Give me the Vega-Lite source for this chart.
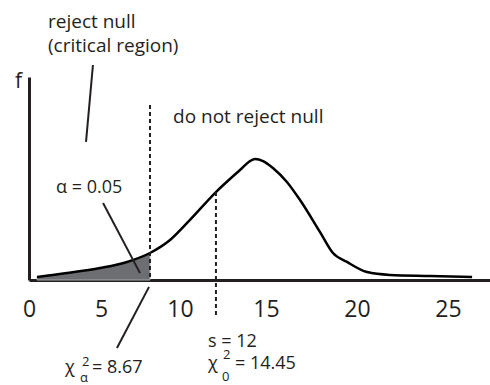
{
  "$schema": "https://vega.github.io/schema/vega-lite/v6.json",
  "width": 461,
  "height": 203,
  "autosize": {"type": "none"},
  "padding": {"left": 29, "top": 77, "right": 0, "bottom": 105},
  "background": "white",
  "config": {"view": {"stroke": null}, "font": "Open Sans", "text": {"font": "Open Sans"}},
  "datasets": {
    "curve": [
      {"x": 0.56, "f": 0.015},
      {"x": 2.64, "f": 0.034},
      {"x": 4.93, "f": 0.059},
      {"x": 6.65, "f": 0.089},
      {"x": 8.10, "f": 0.133},
      {"x": 9.37, "f": 0.197},
      {"x": 10.58, "f": 0.296},
      {"x": 12.09, "f": 0.433},
      {"x": 13.49, "f": 0.542},
      {"x": 14.07, "f": 0.586},
      {"x": 14.36, "f": 0.596},
      {"x": 14.83, "f": 0.586},
      {"x": 15.38, "f": 0.552},
      {"x": 16.15, "f": 0.483},
      {"x": 16.87, "f": 0.394},
      {"x": 17.97, "f": 0.236},
      {"x": 18.68, "f": 0.133},
      {"x": 19.45, "f": 0.089},
      {"x": 20.55, "f": 0.039},
      {"x": 21.81, "f": 0.025},
      {"x": 24.01, "f": 0.020},
      {"x": 26.32, "f": 0.015}
    ],
    "dashes": [
      {"x": 8.1, "y": 0.862, "y2": 0},
      {"x": 12.09, "y": 0.433, "y2": -0.172}
    ],
    "leaders": [
      {"x": 4.44, "y": 1.059, "x2": 3.96, "y2": 0.68},
      {"x": 5.13, "y": 0.379, "x2": 7.47, "y2": 0.034},
      {"x": 8.04, "y": -0.034, "x2": 6.01, "y2": -0.335}
    ],
    "bigText": [
      {"x": 1.32, "y": 1.241, "label": "reject null"},
      {"x": 1.32, "y": 1.123, "label": "(critical region)"},
      {"x": 9.56, "y": 0.773, "label": "do not reject null"}
    ],
    "midText": [
      {"x": 1.875, "y": 0.429, "label": "α = 0.05"},
      {"x": 11.63, "y": -0.33, "label": "s = 12"},
      {"x": 2.5, "y": -0.458, "label": "χ"},
      {"x": 4.38, "y": -0.458, "label": "= 8.67"},
      {"x": 11.63, "y": -0.438, "label": "χ"},
      {"x": 13.2, "y": -0.438, "label": "= 14.45"}
    ],
    "scripts": [
      {"x": 3.68, "y": -0.424, "label": "2"},
      {"x": 3.54, "y": -0.502, "label": "α"},
      {"x": 12.5, "y": -0.389, "label": "2"},
      {"x": 12.44, "y": -0.497, "label": "0"}
    ]
  },
  "encoding": {
    "x": {
      "field": "x", "type": "quantitative",
      "scale": {"domain": [0, 5, 10, 15, 20, 25, 27.3], "range": [0, 72, 151, 237, 328, 419, 461], "nice": false, "zero": false},
      "axis": {
        "title": null, "grid": false, "ticks": false, "tickSize": 0,
        "values": [0, 5, 10, 15, 20, 25],
        "labelFontSize": 23, "labelFont": "Open Sans", "labelColor": "#231f20",
        "labelPadding": 18, "labelFlush": false,
        "domainWidth": 3, "domainColor": "#231f20"
      }
    },
    "y": {
      "field": "f", "type": "quantitative",
      "scale": {"domain": [0, 1], "nice": false, "zero": false},
      "axis": {
        "title": "f", "titleAngle": 0, "titleFontSize": 21, "titleFont": "Open Sans",
        "titleFontWeight": "normal", "titleColor": "#231f20",
        "titleX": -11, "titleY": 10, "titleAlign": "center", "titleBaseline": "alphabetic",
        "labels": false, "ticks": false, "tickSize": 0, "grid": false,
        "domainWidth": 3, "domainColor": "#231f20"
      }
    }
  },
  "layer": [
    {
      "data": {"name": "curve"},
      "transform": [{"filter": "datum.x <= 8.1"}],
      "mark": {"type": "area", "interpolate": "monotone", "color": "#6d6e71", "stroke": "#a7a9ac", "strokeWidth": 1},
      "encoding": {}
    },
    {
      "data": {"name": "curve"},
      "mark": {"type": "line", "interpolate": "monotone", "color": "#000000", "strokeWidth": 2.5},
      "encoding": {}
    },
    {
      "data": {"name": "dashes"},
      "mark": {"type": "rule", "color": "#231f20", "strokeWidth": 2, "strokeDash": [4, 3]},
      "encoding": {"y": {"field": "y", "type": "quantitative"}, "y2": {"field": "y2"}}
    },
    {
      "data": {"name": "leaders"},
      "mark": {"type": "rule", "color": "#231f20", "strokeWidth": 2},
      "encoding": {"y": {"field": "y", "type": "quantitative"}, "x2": {"field": "x2"}, "y2": {"field": "y2"}}
    },
    {
      "data": {"name": "bigText"},
      "mark": {"type": "text", "align": "left", "baseline": "alphabetic", "fontSize": 19, "font": "Open Sans", "color": "#231f20"},
      "encoding": {"y": {"field": "y", "type": "quantitative"}, "text": {"field": "label"}}
    },
    {
      "data": {"name": "midText"},
      "mark": {"type": "text", "align": "left", "baseline": "alphabetic", "fontSize": 18, "font": "Open Sans", "color": "#231f20"},
      "encoding": {"y": {"field": "y", "type": "quantitative"}, "text": {"field": "label"}}
    },
    {
      "data": {"name": "scripts"},
      "mark": {"type": "text", "align": "left", "baseline": "alphabetic", "fontSize": 13, "font": "Open Sans", "color": "#231f20"},
      "encoding": {"y": {"field": "y", "type": "quantitative"}, "text": {"field": "label"}}
    }
  ]
}
